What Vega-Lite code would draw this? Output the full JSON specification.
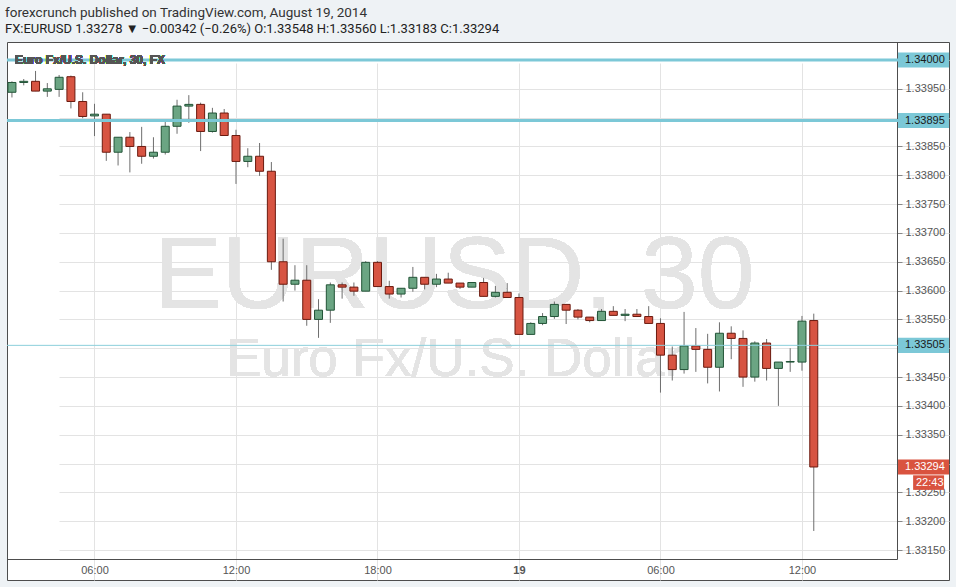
{
  "$schema": "https://vega.github.io/schema/vega-lite/v6.json",
  "width": 942,
  "height": 538,
  "autosize": {"type": "none"},
  "padding": {"left": 7, "top": 42, "right": 7, "bottom": 7},
  "background": "#eef2f5",
  "config": {
    "view": {"stroke": "#4d4d4d", "fill": "#ffffff", "strokeWidth": 1},
    "font": "Liberation Sans"
  },
  "title": {
    "text": "forexcrunch  published on TradingView.com, August 19, 2014",
    "subtitle": "FX:EURUSD 1.33278 ▼ −0.00342 (−0.26%)  O:1.33548  H:1.33560  L:1.33183  C:1.33294",
    "anchor": "start",
    "frame": "group",
    "font": "Roboto",
    "fontSize": 13.5,
    "fontWeight": "normal",
    "color": "#333333",
    "subtitleFont": "Roboto",
    "subtitleFontSize": 13,
    "subtitleFontWeight": "normal",
    "subtitleColor": "#222222",
    "subtitlePadding": 4,
    "offset": 6,
    "dx": -2
  },
  "data": {
    "values": [
      {"t": "2014-08-18T02:30:00", "o": 1.33944, "h": 1.33963, "l": 1.33935, "c": 1.33961},
      {"t": "2014-08-18T03:00:00", "o": 1.33961, "h": 1.33967, "l": 1.33956, "c": 1.33963},
      {"t": "2014-08-18T03:30:00", "o": 1.33963, "h": 1.33981, "l": 1.33946, "c": 1.33946},
      {"t": "2014-08-18T04:00:00", "o": 1.33946, "h": 1.3396, "l": 1.33936, "c": 1.3395},
      {"t": "2014-08-18T04:30:00", "o": 1.33949, "h": 1.33974, "l": 1.33936, "c": 1.3397},
      {"t": "2014-08-18T05:00:00", "o": 1.33971, "h": 1.33973, "l": 1.33916, "c": 1.33928},
      {"t": "2014-08-18T05:30:00", "o": 1.33928, "h": 1.33944, "l": 1.33899, "c": 1.33902},
      {"t": "2014-08-18T06:00:00", "o": 1.33903, "h": 1.33924, "l": 1.33868, "c": 1.33906},
      {"t": "2014-08-18T06:30:00", "o": 1.33906, "h": 1.33906, "l": 1.33825, "c": 1.3384},
      {"t": "2014-08-18T07:00:00", "o": 1.3384, "h": 1.33866, "l": 1.33817, "c": 1.33866},
      {"t": "2014-08-18T07:30:00", "o": 1.33866, "h": 1.33875, "l": 1.33805, "c": 1.3385},
      {"t": "2014-08-18T08:00:00", "o": 1.3385, "h": 1.33884, "l": 1.3382, "c": 1.33833},
      {"t": "2014-08-18T08:30:00", "o": 1.33833, "h": 1.33866, "l": 1.33829, "c": 1.3384},
      {"t": "2014-08-18T09:00:00", "o": 1.3384, "h": 1.33894, "l": 1.33836, "c": 1.33885},
      {"t": "2014-08-18T09:30:00", "o": 1.33885, "h": 1.33931, "l": 1.33872, "c": 1.3392},
      {"t": "2014-08-18T10:00:00", "o": 1.3392, "h": 1.33939, "l": 1.33891, "c": 1.33923},
      {"t": "2014-08-18T10:30:00", "o": 1.33923, "h": 1.33926, "l": 1.33842, "c": 1.33876},
      {"t": "2014-08-18T11:00:00", "o": 1.33876, "h": 1.33917, "l": 1.33874, "c": 1.33908},
      {"t": "2014-08-18T11:30:00", "o": 1.33908, "h": 1.33915, "l": 1.33869, "c": 1.33869},
      {"t": "2014-08-18T12:00:00", "o": 1.33869, "h": 1.33879, "l": 1.33785, "c": 1.33824},
      {"t": "2014-08-18T12:30:00", "o": 1.33824, "h": 1.33847, "l": 1.33814, "c": 1.33833},
      {"t": "2014-08-18T13:00:00", "o": 1.33833, "h": 1.33856, "l": 1.33799, "c": 1.33807},
      {"t": "2014-08-18T13:30:00", "o": 1.33807, "h": 1.33823, "l": 1.33636, "c": 1.3365},
      {"t": "2014-08-18T14:00:00", "o": 1.3365, "h": 1.3369, "l": 1.33581, "c": 1.33611},
      {"t": "2014-08-18T14:30:00", "o": 1.33611, "h": 1.33644, "l": 1.336, "c": 1.33618},
      {"t": "2014-08-18T15:00:00", "o": 1.33618, "h": 1.33644, "l": 1.33539, "c": 1.3355},
      {"t": "2014-08-18T15:30:00", "o": 1.3355, "h": 1.33585, "l": 1.33518, "c": 1.33566},
      {"t": "2014-08-18T16:00:00", "o": 1.33566, "h": 1.33614, "l": 1.33544, "c": 1.3361},
      {"t": "2014-08-18T16:30:00", "o": 1.3361, "h": 1.33614, "l": 1.33586, "c": 1.33606},
      {"t": "2014-08-18T17:00:00", "o": 1.33606, "h": 1.33614, "l": 1.33591, "c": 1.33599},
      {"t": "2014-08-18T17:30:00", "o": 1.33599, "h": 1.33651, "l": 1.33599, "c": 1.33649},
      {"t": "2014-08-18T18:00:00", "o": 1.33649, "h": 1.33651, "l": 1.33607, "c": 1.33607},
      {"t": "2014-08-18T18:30:00", "o": 1.33607, "h": 1.33617, "l": 1.33586, "c": 1.33594},
      {"t": "2014-08-18T19:00:00", "o": 1.33594, "h": 1.33604, "l": 1.33588, "c": 1.33604},
      {"t": "2014-08-18T19:30:00", "o": 1.33604, "h": 1.33641, "l": 1.33598, "c": 1.33623},
      {"t": "2014-08-18T20:00:00", "o": 1.33623, "h": 1.33623, "l": 1.33602, "c": 1.33611},
      {"t": "2014-08-18T20:30:00", "o": 1.33611, "h": 1.33629, "l": 1.33606, "c": 1.3362},
      {"t": "2014-08-18T21:00:00", "o": 1.3362, "h": 1.33631, "l": 1.33613, "c": 1.33613},
      {"t": "2014-08-18T21:30:00", "o": 1.33613, "h": 1.33613, "l": 1.33603, "c": 1.33606},
      {"t": "2014-08-18T22:00:00", "o": 1.33606, "h": 1.33614, "l": 1.33606, "c": 1.33614},
      {"t": "2014-08-18T22:30:00", "o": 1.33614, "h": 1.33622, "l": 1.3359, "c": 1.3359},
      {"t": "2014-08-18T23:00:00", "o": 1.3359, "h": 1.33608, "l": 1.33588, "c": 1.33597},
      {"t": "2014-08-18T23:30:00", "o": 1.33597, "h": 1.33613, "l": 1.33588, "c": 1.33588},
      {"t": "2014-08-19T00:00:00", "o": 1.33588, "h": 1.33595, "l": 1.33524, "c": 1.33524},
      {"t": "2014-08-19T00:30:00", "o": 1.33524, "h": 1.33545, "l": 1.33524, "c": 1.33543},
      {"t": "2014-08-19T01:00:00", "o": 1.33543, "h": 1.33561, "l": 1.3354, "c": 1.33555},
      {"t": "2014-08-19T01:30:00", "o": 1.33555, "h": 1.33581, "l": 1.33551, "c": 1.33576},
      {"t": "2014-08-19T02:00:00", "o": 1.33576, "h": 1.33576, "l": 1.33542, "c": 1.33566},
      {"t": "2014-08-19T02:30:00", "o": 1.33566, "h": 1.33568, "l": 1.3355, "c": 1.33554},
      {"t": "2014-08-19T03:00:00", "o": 1.33554, "h": 1.33554, "l": 1.33545, "c": 1.33548},
      {"t": "2014-08-19T03:30:00", "o": 1.33548, "h": 1.33568, "l": 1.33548, "c": 1.33564},
      {"t": "2014-08-19T04:00:00", "o": 1.33564, "h": 1.33573, "l": 1.33557, "c": 1.33557},
      {"t": "2014-08-19T04:30:00", "o": 1.33557, "h": 1.33568, "l": 1.33547, "c": 1.33559},
      {"t": "2014-08-19T05:00:00", "o": 1.33559, "h": 1.33568, "l": 1.33555, "c": 1.33555},
      {"t": "2014-08-19T05:30:00", "o": 1.33555, "h": 1.33573, "l": 1.33543, "c": 1.33543},
      {"t": "2014-08-19T06:00:00", "o": 1.33543, "h": 1.33552, "l": 1.33423, "c": 1.33488},
      {"t": "2014-08-19T06:30:00", "o": 1.33488, "h": 1.33503, "l": 1.33444, "c": 1.33463},
      {"t": "2014-08-19T07:00:00", "o": 1.33463, "h": 1.33563, "l": 1.33456, "c": 1.33504},
      {"t": "2014-08-19T07:30:00", "o": 1.33504, "h": 1.33535, "l": 1.33459, "c": 1.33498},
      {"t": "2014-08-19T08:00:00", "o": 1.33498, "h": 1.33525, "l": 1.33439, "c": 1.33467},
      {"t": "2014-08-19T08:30:00", "o": 1.33467, "h": 1.33545, "l": 1.33425, "c": 1.33526},
      {"t": "2014-08-19T09:00:00", "o": 1.33526, "h": 1.33538, "l": 1.33481, "c": 1.33517},
      {"t": "2014-08-19T09:30:00", "o": 1.33517, "h": 1.33531, "l": 1.33433, "c": 1.3345},
      {"t": "2014-08-19T10:00:00", "o": 1.3345, "h": 1.33512, "l": 1.33442, "c": 1.33509},
      {"t": "2014-08-19T10:30:00", "o": 1.33509, "h": 1.33516, "l": 1.33444, "c": 1.33465},
      {"t": "2014-08-19T11:00:00", "o": 1.33465, "h": 1.33476, "l": 1.334, "c": 1.33476},
      {"t": "2014-08-19T11:30:00", "o": 1.33476, "h": 1.335, "l": 1.33459, "c": 1.33477},
      {"t": "2014-08-19T12:00:00", "o": 1.33476, "h": 1.33556, "l": 1.33461, "c": 1.33547},
      {"t": "2014-08-19T12:30:00", "o": 1.33548, "h": 1.3356, "l": 1.33183, "c": 1.33294}
    ]
  },
  "layer": [
    {
      "mark": {"type": "text", "text": "EURUSD, 30", "font": "Liberation Sans", "fontSize": 102, "color": "#e4e4e4", "align": "center", "baseline": "alphabetic"},
      "encoding": {
        "x": {
          "datum": {"year": 2014, "month": 8, "date": 18, "hours": 21, "minutes": 15},
          "type": "temporal",
          "scale": {
            "domain": [
              {"year": 2014, "month": 8, "date": 18, "hours": 2, "minutes": 17, "seconds": 24},
              {"year": 2014, "month": 8, "date": 19, "hours": 16, "minutes": 1, "seconds": 45}
            ],
            "range": [0, 890],
            "padding": 0
          },
          "axis": {
            "orient": "bottom",
            "offset": -21,
            "title": null,
            "values": [
              {"year": 2014, "month": 8, "date": 18, "hours": 6},
              {"year": 2014, "month": 8, "date": 18, "hours": 12},
              {"year": 2014, "month": 8, "date": 18, "hours": 18},
              {"year": 2014, "month": 8, "date": 19, "hours": 0},
              {"year": 2014, "month": 8, "date": 19, "hours": 6},
              {"year": 2014, "month": 8, "date": 19, "hours": 12}
            ],
            "tickCount": 40,
            "labelExpr": "hours(datum.value) == 0 ? timeFormat(datum.value, '%d') : timeFormat(datum.value, '%H:%M')",
            "labelFontWeight": {"condition": {"test": "hours(datum.value) == 0", "value": "bold"}, "value": "normal"},
            "grid": true,
            "gridColor": "#e3e3e3",
            "domainColor": "#4d4d4d",
            "ticks": false,
            "labelPadding": 5,
            "labelColor": "#555555",
            "labelFontSize": 11,
            "labelFlush": false,
            "labelOverlap": false
          }
        },
        "y": {
          "datum": 1.335698,
          "type": "quantitative",
          "scale": {"domain": [1.331344, 1.340312], "range": [517, 0], "zero": false, "nice": false, "padding": 0},
          "axis": {
            "orient": "right",
            "offset": -52,
            "title": null,
            "values": [1.3315, 1.332, 1.3325, 1.333, 1.3335, 1.334, 1.3345, 1.335, 1.3355, 1.336, 1.3365, 1.337, 1.3375, 1.338, 1.3385, 1.339, 1.3395, 1.34],
            "tickCount": 40,
            "labelExpr": "(abs(datum.value - 1.34) < 0.000001 || abs(datum.value - 1.339) < 0.000001 || abs(datum.value - 1.335) < 0.000001 || abs(datum.value - 1.333) < 0.000001) ? '' : format(datum.value, '.5f')",
            "grid": true,
            "gridColor": "#e3e3e3",
            "domainColor": "#4d4d4d",
            "tickColor": "#888888",
            "tickSize": 5,
            "labelPadding": 3,
            "labelColor": "#555555",
            "labelFontSize": 11,
            "labelFlush": false,
            "labelOverlap": false
          }
        }
      }
    },
    {
      "mark": {"type": "text", "text": "Euro Fx/U.S. Dollar", "font": "Liberation Sans", "fontSize": 53, "color": "#e4e4e4", "align": "center", "baseline": "alphabetic"},
      "encoding": {
        "x": {"datum": {"year": 2014, "month": 8, "date": 18, "hours": 21, "minutes": 15}, "type": "temporal"},
        "y": {"datum": 1.334519, "type": "quantitative"}
      }
    },
    {
      "mark": {"type": "rule", "color": "#6e6e6e", "strokeWidth": 1},
      "encoding": {
        "x": {"field": "t", "type": "temporal"},
        "y": {"field": "l", "type": "quantitative"},
        "y2": {"field": "h"}
      }
    },
    {
      "mark": {"type": "bar", "width": 8, "strokeWidth": 1},
      "encoding": {
        "x": {"field": "t", "type": "temporal"},
        "y": {"field": "o", "type": "quantitative"},
        "y2": {"field": "c"},
        "fill": {"condition": {"test": "datum.c >= datum.o", "value": "#6ba583"}, "value": "#d75442"},
        "stroke": {"condition": {"test": "datum.c >= datum.o", "value": "#225437"}, "value": "#6b1a0f"}
      }
    },
    {
      "data": {"values": [{"p": 1.33505}]},
      "mark": {"type": "rule", "color": "#8ccfdb", "strokeWidth": 1},
      "encoding": {"y": {"field": "p", "type": "quantitative"}}
    },
    {
      "data": {"values": [{"p": 1.34}, {"p": 1.33895}]},
      "mark": {"type": "rule", "color": "#7cc8d7", "strokeWidth": 3},
      "encoding": {"y": {"field": "p", "type": "quantitative"}}
    },
    {
      "mark": {"type": "text", "text": "Euro Fx/U.S. Dollar, 30, FX", "font": "Liberation Sans", "fontSize": 12, "fontWeight": "bold", "color": "#555555", "align": "left", "baseline": "middle", "dx": 8},
      "encoding": {
        "x": {"datum": {"year": 2014, "month": 8, "date": 18, "hours": 2, "minutes": 17, "seconds": 24}, "type": "temporal"},
        "y": {"datum": 1.34, "type": "quantitative"}
      }
    },
    {
      "data": {"values": [{"p": 1.34}, {"p": 1.33895}, {"p": 1.33505}]},
      "layer": [
        {
          "mark": {"type": "point", "shape": "M0.04,-0.29L2,-0.29L2,0.29L0.04,0.29Z", "size": 2704, "filled": true, "color": "#7cc8d7", "opacity": 1, "strokeWidth": 0},
          "encoding": {
            "x": {"datum": {"year": 2014, "month": 8, "date": 19, "hours": 16, "minutes": 1, "seconds": 45}, "type": "temporal"},
            "y": {"field": "p", "type": "quantitative"}
          }
        },
        {
          "mark": {"type": "text", "font": "Liberation Sans", "fontSize": 11, "color": "#1a1a1a", "align": "left", "baseline": "middle", "dx": 8},
          "encoding": {
            "x": {"datum": {"year": 2014, "month": 8, "date": 19, "hours": 16, "minutes": 1, "seconds": 45}, "type": "temporal"},
            "y": {"field": "p", "type": "quantitative"},
            "text": {"field": "p", "type": "quantitative", "format": ".5f"}
          }
        }
      ]
    },
    {
      "data": {"values": [{"p": 1.33294, "cd": "22:43"}]},
      "layer": [
        {
          "mark": {"type": "point", "shape": "M0.04,-0.29L2,-0.29L2,0.29L0.04,0.29Z", "size": 2704, "filled": true, "color": "#d9533f", "opacity": 1, "strokeWidth": 0},
          "encoding": {
            "x": {"datum": {"year": 2014, "month": 8, "date": 19, "hours": 16, "minutes": 1, "seconds": 45}, "type": "temporal"},
            "y": {"field": "p", "type": "quantitative"}
          }
        },
        {
          "mark": {"type": "point", "shape": "M0.62,0.32L1.81,0.32L1.81,0.88L0.62,0.88Z", "size": 2704, "filled": true, "color": "#d9533f", "opacity": 1, "strokeWidth": 0},
          "encoding": {
            "x": {"datum": {"year": 2014, "month": 8, "date": 19, "hours": 16, "minutes": 1, "seconds": 45}, "type": "temporal"},
            "y": {"field": "p", "type": "quantitative"}
          }
        },
        {
          "mark": {"type": "text", "font": "Liberation Sans", "fontSize": 11, "color": "#ffffff", "align": "left", "baseline": "middle", "dx": 8},
          "encoding": {
            "x": {"datum": {"year": 2014, "month": 8, "date": 19, "hours": 16, "minutes": 1, "seconds": 45}, "type": "temporal"},
            "y": {"field": "p", "type": "quantitative"},
            "text": {"field": "p", "type": "quantitative", "format": ".5f"}
          }
        },
        {
          "mark": {"type": "text", "font": "Liberation Sans", "fontSize": 11, "color": "#ffffff", "align": "left", "baseline": "middle", "dx": 19, "dy": 16},
          "encoding": {
            "x": {"datum": {"year": 2014, "month": 8, "date": 19, "hours": 16, "minutes": 1, "seconds": 45}, "type": "temporal"},
            "y": {"field": "p", "type": "quantitative"},
            "text": {"field": "cd"}
          }
        }
      ]
    }
  ]
}
